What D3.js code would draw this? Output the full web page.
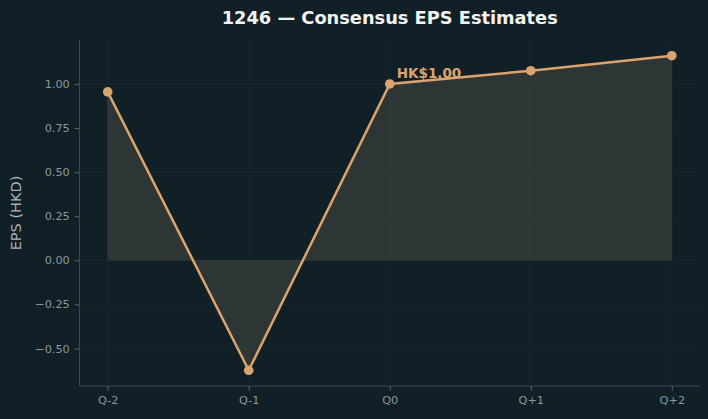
<!DOCTYPE html>
<html><head><meta charset="utf-8">
<script src="https://cdn.jsdelivr.net/npm/d3@7/dist/d3.min.js"></script>
<style>
html,body{margin:0;padding:0;background:#112026;}
svg{display:block;font-family:"DejaVu Sans",sans-serif;}
</style></head>
<body><svg id="c" width="708" height="419"></svg>
<script>
const categories = ["Q-2","Q-1","Q0","Q+1","Q+2"];
const epsValues = [0.955, -0.624, 1.00, 1.075, 1.16];
const yTicks = [-0.50,-0.25,0.00,0.25,0.50,0.75,1.00];
const title = "1246 — Consensus EPS Estimates";
const yLabel = "EPS (HKD)";
const annotation = "HK$1.00";
const annotIndex = 2;

const svg = d3.select("#c");
const W=708,H=419;
const m={left:79.5,right:8,top:40,bottom:33};
const x0=m.left, x1=W-m.right, y0=m.top, y1=H-m.bottom;
const lineColor="#d9a46e";

svg.append("rect").attr("width",W).attr("height",H).attr("fill","#112026");

const lo=d3.min(epsValues), hi=d3.max(epsValues), pad=(hi-lo)*0.05;
const y=d3.scaleLinear().domain([lo-pad,hi+pad]).range([y1,y0]);
const n=categories.length;
const xi=d3.scaleLinear().domain([-0.2,n-1+0.2]).range([x0,x1]);

const g=svg.append("g");
// grid
g.selectAll(".gy").data(yTicks).enter().append("line")
 .attr("x1",x0).attr("x2",x1).attr("y1",d=>y(d)).attr("y2",d=>y(d))
 .attr("stroke","#1b2a30").attr("stroke-width",0.8);
g.selectAll(".gx").data(categories).enter().append("line")
 .attr("x1",(d,i)=>xi(i)).attr("x2",(d,i)=>xi(i)).attr("y1",y0).attr("y2",y1)
 .attr("stroke","#1b2a30").attr("stroke-width",0.8);

// fill
const area=d3.area().x((d,i)=>xi(i)).y0(y(0)).y1(d=>y(d));
g.append("path").datum(epsValues).attr("d",area)
 .attr("fill","#cfae8c").attr("fill-opacity",0.15)
 .attr("stroke",lineColor).attr("stroke-opacity",0.08).attr("stroke-width",1);

// line
const line=d3.line().x((d,i)=>xi(i)).y(d=>y(d));
g.append("path").datum(epsValues).attr("d",line)
 .attr("fill","none").attr("stroke",lineColor).attr("stroke-width",2.5);
g.selectAll(".pt").data(epsValues).enter().append("circle")
 .attr("cx",(d,i)=>xi(i)).attr("cy",d=>y(d)).attr("r",4.8).attr("fill",lineColor);

// axes
const axY=d3.axisLeft(y).tickValues(yTicks).tickFormat(d3.format(".2f")).tickSize(4.7).tickPadding(5);
const axX=d3.axisBottom(xi).tickValues(d3.range(n)).tickFormat(i=>categories[i]).tickSize(4.7).tickPadding(5);
const gy=svg.append("g").attr("transform",`translate(${x0},0)`).call(axY);
const gx=svg.append("g").attr("transform",`translate(0,${y1})`).call(axX);
gy.select(".domain").remove(); gx.select(".domain").remove();
[gy,gx].forEach(a=>{
  a.selectAll("line").attr("stroke","#5d676b");
  a.selectAll("text").attr("fill","#8d979b").style("font-size","11.3px").style("font-family","DejaVu Sans");
});
gy.selectAll("text").text(d=>d<0?"\u2212"+Math.abs(d).toFixed(2):d.toFixed(2));
svg.append("line").attr("x1",x0).attr("x2",x0).attr("y1",y0).attr("y2",y1).attr("stroke","#3f4a4e").attr("stroke-width",1);
svg.append("line").attr("x1",x0).attr("x2",x1).attr("y1",y1).attr("y2",y1).attr("stroke","#3f4a4e").attr("stroke-width",1);

// annotation
svg.append("text").attr("x",xi(annotIndex)+7).attr("y",y(epsValues[annotIndex])-6)
 .attr("fill",lineColor).style("font-size","13.5px").style("font-weight","bold").text(annotation);

// title
svg.append("text").attr("x",(x0+x1)/2).attr("y",24).attr("text-anchor","middle")
 .attr("fill","#f2f2f2").style("font-size","17.8px").style("font-weight","bold").text(title);
// y label
svg.append("text").attr("transform",`translate(21,${(y0+y1)/2}) rotate(-90)`).attr("text-anchor","middle")
 .attr("fill","#a9b1b4").style("font-size","14.5px").text(yLabel);
</script></body></html>
